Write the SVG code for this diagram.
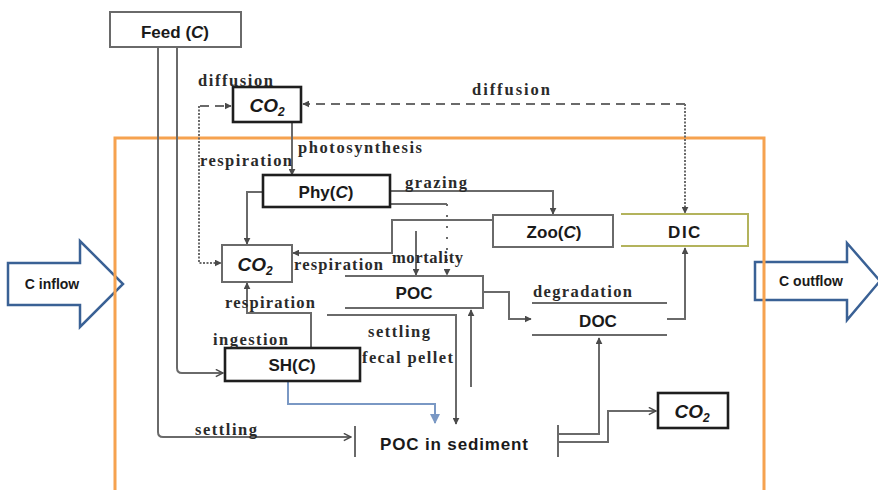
<svg xmlns="http://www.w3.org/2000/svg" width="878" height="490" viewBox="0 0 878 490">
<defs>
<style>
.bg{fill:#ffffff}
.conn{fill:none;stroke:#6a6a6a;stroke-width:2}
.dash{stroke-dasharray:9 6}
.dot{stroke-dasharray:2 1.5}
.box{fill:#ffffff;stroke:#6a6a6a;stroke-width:2}
.boxb{fill:#ffffff;stroke:#1e1e1e;stroke-width:2.6}
.open{fill:none;stroke:#6a6a6a;stroke-width:2}
.node{font-family:"Liberation Sans","Arial",sans-serif;font-weight:bold;font-size:17px;fill:#1a1a1a;text-anchor:middle}
.co2{font-family:"Liberation Sans","Arial",sans-serif;font-weight:bold;font-style:italic;font-size:19px;fill:#1a1a1a;text-anchor:middle}
.lbl{font-family:"Liberation Serif","Times New Roman",serif;font-weight:bold;font-size:16.5px;fill:#2a2a2a}
.big{fill:#ffffff;stroke:#3a6195;stroke-width:2.5;stroke-linejoin:miter}
.flow{font-family:"Liberation Sans","Arial",sans-serif;font-weight:bold;font-size:14px;fill:#1a1a1a;text-anchor:middle}
</style>
<marker id="ah" viewBox="0 0 10 10" refX="9" refY="5" markerWidth="7" markerHeight="7" markerUnits="userSpaceOnUse" orient="auto">
<path d="M0,0 L10,5 L0,10 z" fill="#4a4a4a"/>
</marker>
<marker id="ao" viewBox="0 0 10 10" refX="9" refY="5" markerWidth="9" markerHeight="9" markerUnits="userSpaceOnUse" orient="auto">
<path d="M1,1 L9,5 L1,9" fill="none" stroke="#4a4a4a" stroke-width="1.6"/>
</marker>
<marker id="ab" viewBox="0 0 10 10" refX="9" refY="5" markerWidth="10" markerHeight="10" markerUnits="userSpaceOnUse" orient="auto">
<path d="M0,0 L10,5 L0,10 z" fill="#7a98c4"/>
</marker>
</defs>
<rect class="bg" x="0" y="0" width="878" height="490"/>

<g id="c-inflow">
<polygon class="big" points="8,263 80,263 80,241 123,284 80,327 80,305 8,305"/>
<text class="flow" x="52" y="289">C inflow</text>
</g>
<g id="c-outflow">
<polygon class="big" points="755,262 847,262 847,243 880,281 847,320 847,300 755,300"/>
<text class="flow" x="811" y="286">C outflow</text>
</g>

<g id="system-boundary">
<path d="M115,496 V138 H764 V496" fill="none" stroke="#f6a24f" stroke-width="3"/>
</g>

<g id="connectors">
<path class="conn" d="M158,47 V432 Q158,437 163,437 H351" marker-end="url(#ao)"/>
<path class="conn" d="M177,47 V368 Q177,373 182,373 H223" marker-end="url(#ao)"/>
<path class="conn dash" d="M200,106 H231" marker-end="url(#ah)"/>
<path class="conn dot" d="M199,106 V263 H221" marker-end="url(#ah)"/>
<path class="conn dash" d="M685,104 H303" marker-end="url(#ah)"/>
<path class="conn dot" d="M685,104 V213" marker-end="url(#ah)"/>
<path class="conn" d="M292,123 V175" marker-end="url(#ah)"/>
<path class="conn" d="M263,192 H247 V244" marker-end="url(#ah)"/>
<path class="conn" d="M390,191 H553 V214" marker-end="url(#ah)"/>
<path class="conn" d="M390,204 H447"/>
<path class="conn" d="M447,204 V275" stroke-dasharray="2 9" marker-end="url(#ah)"/>
<path class="conn" d="M493,220 H392 V253 H293" marker-end="url(#ah)"/>
<path class="conn" d="M416,231 V275" marker-end="url(#ah)"/>
<path class="conn" d="M483,292 H509 V319 H531" marker-end="url(#ah)"/>
<path class="conn" d="M667,319 H685 V248" marker-end="url(#ah)"/>
<path class="conn" d="M311,347 V313 H247 V283" marker-end="url(#ah)"/>
<path d="M288,381 V404 H435 V423" fill="none" stroke="#7a98c4" stroke-width="2" marker-end="url(#ab)"/>
<path class="conn" d="M327,315 H456 V424" marker-end="url(#ah)"/>
<path class="conn" d="M471,387 V310" marker-end="url(#ah)"/>
<path class="conn" d="M558,434 H599 V338" marker-end="url(#ah)"/>
<path class="conn" d="M558,442 H608 V411 H656" marker-end="url(#ao)"/>
</g>

<g id="feed">
<rect class="box" x="110" y="12" width="131" height="35"/>
<text class="node" x="175" y="38" font-size="18" fill="#333">Feed (<tspan font-style="italic">C</tspan>)</text>
</g>
<g id="co2-air">
<rect class="boxb" x="233" y="87" width="68" height="35"/>
<text class="co2" x="267" y="112">CO<tspan font-size="12" dy="4">2</tspan></text>
</g>
<g id="phy">
<rect class="boxb" x="263" y="175" width="127" height="32"/>
<text class="node" x="326" y="198" font-weight="normal">Phy(<tspan font-style="italic">C</tspan>)</text>
</g>
<g id="zoo">
<rect class="box" x="493" y="215" width="120" height="32"/>
<text class="node" x="554" y="238">Zoo(<tspan font-style="italic">C</tspan>)</text>
</g>
<g id="dic">
<path d="M621,214 H748 V246 H621" fill="none" stroke="#b3b35c" stroke-width="2"/>
<text class="node" x="685" y="238" letter-spacing="1.5">DIC</text>
</g>
<g id="co2-water">
<rect class="box" x="222" y="245" width="70" height="37" stroke="#333"/>
<text class="co2" x="255" y="271">CO<tspan font-size="12" dy="4">2</tspan></text>
</g>
<g id="poc">
<path class="open" d="M345,276 H483 V308 H345"/>
<text class="node" x="414" y="299">POC</text>
</g>
<g id="doc">
<path class="open" d="M532,303 H667 M532,335 H667"/>
<text class="node" x="598" y="327">DOC</text>
</g>
<g id="sh">
<rect class="boxb" x="225" y="348" width="135" height="33"/>
<text class="node" x="292" y="371" font-weight="normal">SH(<tspan font-style="italic">C</tspan>)</text>
</g>
<g id="poc-sediment">
<path class="open" d="M355,426 V457 M558,425 V457"/>
<text class="node" x="454" y="450" textLength="148">POC in sediment</text>
</g>
<g id="co2-sediment">
<rect class="boxb" x="658" y="393" width="70" height="35" stroke="#333"/>
<text class="co2" x="692" y="418">CO<tspan font-size="12" dy="4">2</tspan></text>
</g>

<g id="labels">
<text class="lbl" x="198" y="86" textLength="75">diffusion</text>
<text class="lbl" x="472" y="95" textLength="78">diffusion</text>
<text class="lbl" x="298" y="153" textLength="124">photosynthesis</text>
<text class="lbl" x="200" y="166" textLength="92">respiration</text>
<text class="lbl" x="405" y="188" textLength="62">grazing</text>
<text class="lbl" x="294" y="270" textLength="89">respiration</text>
<text class="lbl" x="392" y="263" textLength="71">mortality</text>
<text class="lbl" x="533" y="297" textLength="99">degradation</text>
<text class="lbl" x="225" y="308" textLength="90">respiration</text>
<text class="lbl" x="368" y="337" textLength="62">settling</text>
<text class="lbl" x="213" y="345" textLength="75">ingestion</text>
<text class="lbl" x="362" y="363" textLength="91">fecal pellet</text>
<text class="lbl" x="195" y="435" textLength="62">settling</text>
</g>
</svg>
